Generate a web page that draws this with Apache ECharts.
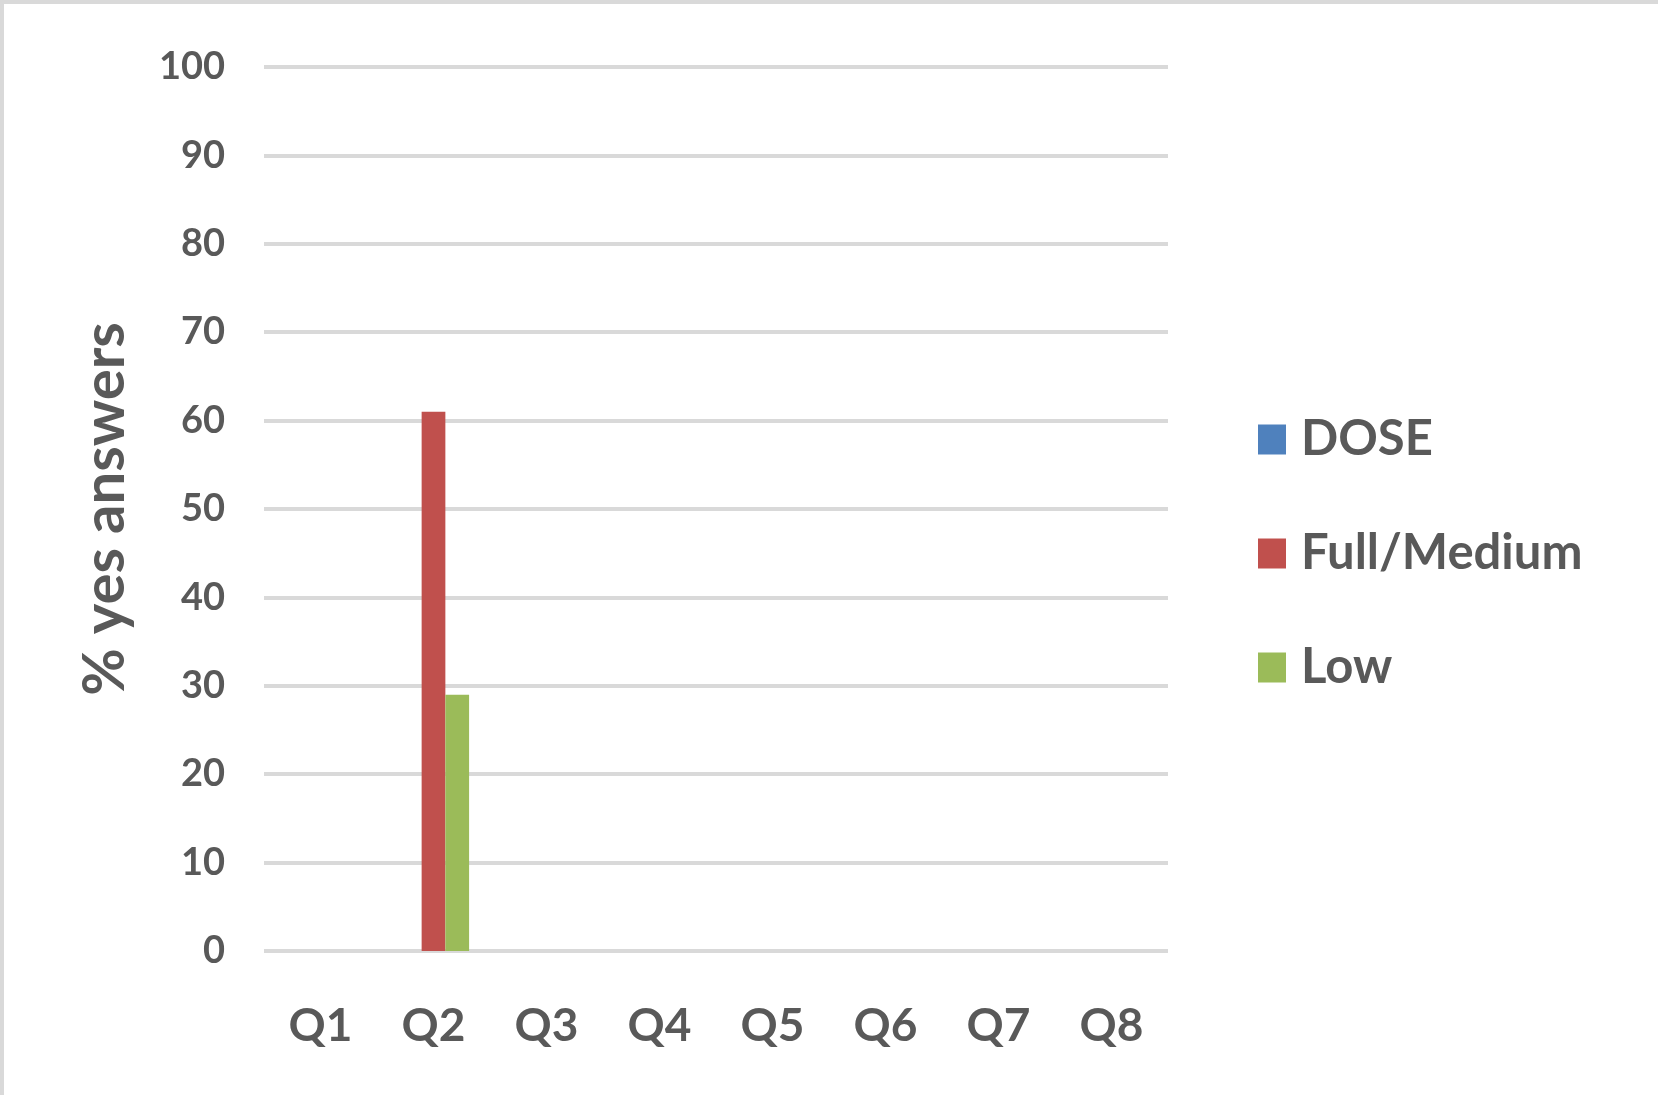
<!DOCTYPE html>
<html>
<head>
<meta charset="utf-8">
<script src="https://cdn.jsdelivr.net/npm/echarts@6/dist/echarts.min.js"></script>
<style>
  html, body { margin: 0; padding: 0; background: #fff; }
  #chart { width: 1658px; height: 1095px; }
</style>
</head>
<body>
<div id="chart"></div>
<script>
// Questions along the x axis
const categories = ['Q1', 'Q2', 'Q3', 'Q4', 'Q5', 'Q6', 'Q7', 'Q8'];
// Percentage of "yes" answers per group
const doseValues = [0, 0, 0, 0, 0, 0, 0, 0];
const fullMediumValues = [0, 61, 0, 0, 0, 0, 0, 0];
const lowValues = [0, 29, 0, 0, 0, 0, 0, 0];
const seriesNames = ['DOSE', 'Full/Medium', 'Low'];

const textColor = '#595959';
const gridColor = '#d9d9d9';
const fontFamily = 'Lato, "Open Sans", sans-serif';

const chart = echarts.init(document.getElementById('chart'), null, { renderer: 'canvas' });

const barSeries = (name, data, color) => ({
  name,
  type: 'bar',
  data,
  barGap: '0%',
  barCategoryGap: '37%',
  itemStyle: { color },
  emphasis: { disabled: true }
});

chart.setOption({
  animation: false,
  backgroundColor: '#ffffff',
  textStyle: { fontFamily },
  graphic: [
    { type: 'rect', left: 0, top: 0, shape: { width: 1658, height: 4 }, style: { fill: gridColor } },
    { type: 'rect', left: 0, top: 0, shape: { width: 4, height: 1095 }, style: { fill: gridColor } }
  ],
  grid: { left: 264, right: 490, top: 67, bottom: 144 },
  legend: {
    orient: 'vertical',
    left: 1258,
    top: 415,
    padding: 0,
    itemWidth: 28,
    itemHeight: 30,
    itemGap: 65,
    icon: 'rect',
    data: seriesNames,
    textStyle: {
      color: textColor,
      fontSize: 49,
      fontWeight: 'bold',
      fontFamily,
      padding: [0, 0, 0, 10]
    }
  },
  xAxis: {
    type: 'category',
    data: categories,
    axisLine: { show: false },
    axisTick: { show: false },
    axisLabel: {
      color: textColor,
      fontSize: 46,
      fontWeight: 'bold',
      fontFamily,
      margin: 52
    }
  },
  yAxis: {
    type: 'value',
    min: 0,
    max: 100,
    interval: 10,
    name: '% yes answers',
    nameLocation: 'middle',
    nameGap: 130,
    nameTextStyle: {
      color: textColor,
      fontSize: 58,
      fontWeight: 'bold',
      fontFamily
    },
    axisLine: { show: false },
    axisTick: { show: false },
    axisLabel: {
      color: textColor,
      fontSize: 38,
      fontWeight: 'bold',
      fontFamily,
      margin: 39
    },
    splitLine: { lineStyle: { color: gridColor, width: 4 } }
  },
  series: [
    barSeries(seriesNames[0], doseValues, '#4f81bd'),
    barSeries(seriesNames[1], fullMediumValues, '#c0504d'),
    barSeries(seriesNames[2], lowValues, '#9bbb59')
  ]
});
</script>
</body>
</html>
